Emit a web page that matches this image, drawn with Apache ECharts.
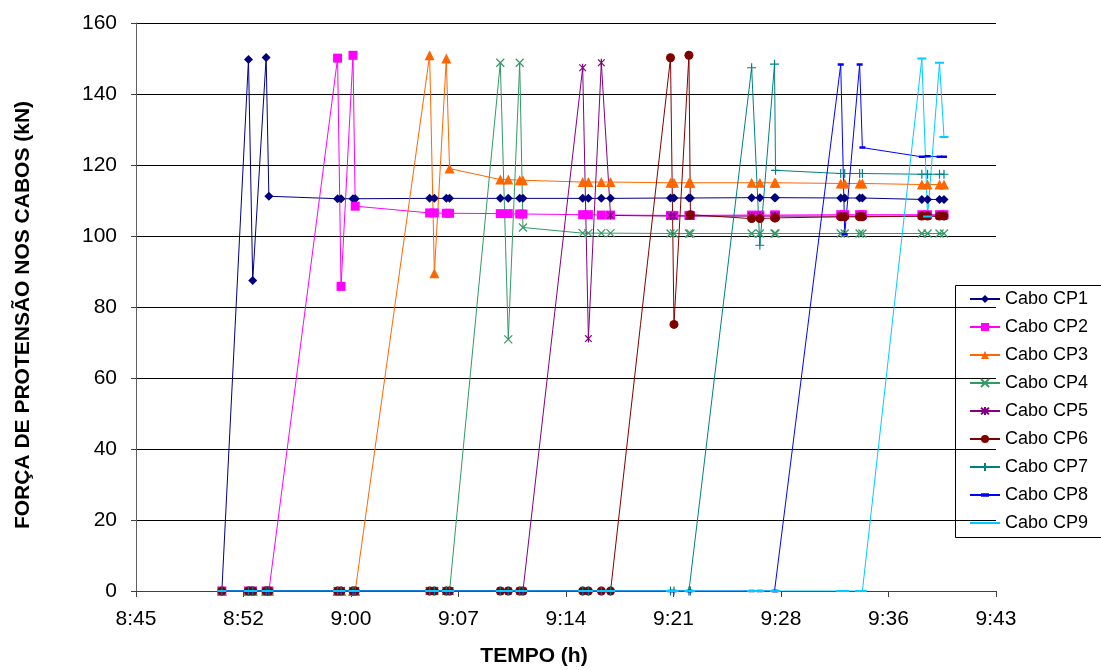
<!DOCTYPE html>
<html><head><meta charset="utf-8">
<script src="https://cdn.jsdelivr.net/npm/echarts@6/dist/echarts.min.js"></script>
<style>html,body{margin:0;padding:0;background:#fff}#c{width:1101px;height:670px}</style>
</head><body><div id="c"></div>
<script>
// shared time stamps (h:mm:ss)
const times = ['8:51:21','8:53:08','8:53:25','8:54:19','8:54:30','8:59:06','8:59:20','9:00:08','9:00:17',
  '9:05:16','9:05:35','9:06:23','9:06:36','9:10:00','9:10:32','9:11:18','9:11:31','9:15:31','9:15:54',
  '9:16:46','9:17:23','9:21:24','9:21:38','9:22:38','9:22:44','9:26:50','9:27:23','9:28:22','9:28:26',
  '9:32:48','9:33:04','9:34:04','9:34:15','9:38:14','9:38:37','9:39:25','9:39:43'];

const CP1 = [0,149.7,87.5,150.3,111.2,110.5,110.5,110.5,110.5,110.6,110.6,110.6,110.6,110.6,110.6,110.6,110.6,110.6,110.6,110.6,110.6,110.7,110.7,110.7,110.7,110.8,110.8,110.8,110.8,110.7,110.7,110.7,110.7,110.3,110.3,110.3,110.3];
const CP2 = [0,0,0,0,0,150.1,85.8,150.9,108.4,106.5,106.5,106.4,106.4,106.3,106.3,106.2,106.2,106.0,106.0,105.9,105.9,105.8,105.8,105.8,105.8,105.9,105.9,105.9,105.9,106.0,106.0,106.0,106.0,106.0,106.0,106.0,106.0];
const CP3 = [0,0,0,0,0,0,0,0,0,150.9,89.5,150.0,119.0,115.9,115.9,115.7,115.7,115.2,115.2,115.2,115.2,115.0,115.0,115.0,115.0,115.0,115.0,115.0,115.0,114.8,114.8,114.8,114.8,114.5,114.5,114.5,114.5];
const CP4 = [0,0,0,0,0,0,0,0,0,0,0,0,0,148.8,70.9,148.8,102.4,100.8,100.8,100.8,100.8,100.7,100.7,100.7,100.7,100.7,100.7,100.7,100.7,100.7,100.7,100.7,100.7,100.7,100.7,100.7,100.7];
const CP5 = [0,0,0,0,0,0,0,0,0,0,0,0,0,0,0,0,0,147.4,71.1,148.8,105.8,105.6,105.6,105.6,105.6,105.6,105.6,105.6,105.6,105.6,105.6,105.6,105.6,105.6,105.6,105.6,105.6];
const CP6 = [0,0,0,0,0,0,0,0,0,0,0,0,0,0,0,0,0,0,0,0,0,150.2,75.1,150.9,106.0,104.9,104.9,105.1,105.1,105.4,105.4,105.4,105.4,105.6,105.6,105.6,105.6];
const CP7 = [0,0,0,0,0,0,0,0,0,0,0,0,0,0,0,0,0,0,0,0,0,0,0,0,0,147.4,97.4,148.4,118.5,117.6,117.6,117.6,117.6,117.4,117.4,117.4,117.4];
const CP8 = [0,0,0,0,0,0,0,0,0,0,0,0,0,0,0,0,0,0,0,0,0,0,0,0,0,0,0,0,0,148.3,100.5,148.3,124.9,122.3,122.5,122.3,122.3];
const CP9 = [0,0,0,0,0,0,0,0,0,0,0,0,0,0,0,0,0,0,0,0,0,0,0,0,0,0,0,0,0,0,0,0,0,150.0,105.5,148.8,127.9];

const seriesNames = ['Cabo CP1','Cabo CP2','Cabo CP3','Cabo CP4','Cabo CP5','Cabo CP6','Cabo CP7','Cabo CP8','Cabo CP9'];
const xMinTime = '8:45:36', xMaxTime = '9:43:12', xStepMin = 7.2;
const yMin = 0, yMax = 160, yStep = 20;

const toMin = s => { const p = s.split(':').map(Number); return p[0]*60 + p[1] + (p[2]||0)/60; };
const fmt = v => { const m = Math.floor(v + 1e-6); return Math.floor(m/60) + ':' + String(m%60).padStart(2,'0'); };

const FONT = "'Liberation Sans', Arial, sans-serif";
// bar-shaped markers drawn inside a square box so they keep their shape in the legend too
const looks = [
  {color:'#000080', symbol:'diamond', size:9, stroke:0},
  {color:'#FF00FF', symbol:'rect', size:9, stroke:0},
  {color:'#FF6600', symbol:'triangle', size:10, stroke:0},
  {color:'#339966', symbol:'path://M0,0L10,10M10,0L0,10', size:8, stroke:1.2},
  {color:'#800080', symbol:'path://M0,0L10,10M10,0L0,10M5,-1L5,11', size:8, stroke:1.2},
  {color:'#800000', symbol:'circle', size:9, stroke:0},
  {color:'#008080', symbol:'path://M5,0L5,10M0,5L10,5', size:9, stroke:1.2},
  {color:'#0000FF', symbol:'path://M0,0L0.01,0ZM0,1.75L6,1.75L6,4.25L0,4.25ZM6,6L5.99,6Z', size:6, stroke:0},
  {color:'#00CCFF', symbol:'path://M0,0L0.01,0ZM0,3.5L9,3.5L9,5.5L0,5.5ZM9,9L8.99,9Z', size:9, stroke:0}
];
const allVals = [CP1,CP2,CP3,CP4,CP5,CP6,CP7,CP8,CP9];

const series = allVals.map((vals, k) => ({
  name: seriesNames[k],
  type: 'line',
  data: times.map((t, i) => [toMin(t), vals[i]]),
  symbol: looks[k].symbol,
  symbolSize: looks[k].size,
  symbolKeepAspect: true,
  lineStyle: {color: looks[k].color, width: 1},
  itemStyle: {color: looks[k].color, borderColor: looks[k].color, borderWidth: looks[k].stroke},
  emphasis: {disabled: true},
  animation: false
}));

const chart = echarts.init(document.getElementById('c'), null, {renderer: 'canvas'});
chart.setOption({
  animation: false,
  backgroundColor: '#fff',
  grid: {left: 136, right: 105, top: 23, bottom: 79, containLabel: false},
  xAxis: {
    type: 'value', min: toMin(xMinTime), max: toMin(xMaxTime), interval: xStepMin,
    axisLine: {show: true, onZero: false, lineStyle: {color: '#404040', width: 1}},
    axisTick: {show: true, inside: false, length: 6, lineStyle: {color: '#404040'}},
    axisLabel: {formatter: fmt, color: '#000', fontSize: 21, fontFamily: FONT, margin: 18},
    splitLine: {show: false}
  },
  yAxis: {
    type: 'value', min: yMin, max: yMax, interval: yStep,
    axisLine: {show: true, lineStyle: {color: '#606060', width: 1}},
    axisTick: {show: true, inside: false, length: 5, lineStyle: {color: '#404040'}},
    axisLabel: {color: '#000', fontSize: 21, fontFamily: FONT, margin: 19},
    splitLine: {show: true, lineStyle: {color: '#000', width: 1}}
  },
  legend: {
    orient: 'vertical', left: 955, top: 285,
    padding: [4, 10, 4, 14],
    itemWidth: 30, itemHeight: 10, itemGap: 8,
    textStyle: {fontSize: 18, fontFamily: FONT, color: '#000', lineHeight: 20},
    data: seriesNames
  },
  graphic: [
    {type: 'rect', shape: {x: 955.5, y: 285.5, width: 200, height: 252},
     style: {fill: 'none', stroke: '#000', lineWidth: 1}, z: 10, silent: true},
    {type: 'text', x: 23, y: 315, rotation: Math.PI/2,
     style: {text: 'FORÇA DE PROTENSÃO NOS CABOS (kN)', font: "bold 21px 'Liberation Sans', Arial, sans-serif",
             fill: '#000', align: 'center', verticalAlign: 'middle'}},
    {type: 'text', x: 534, y: 656,
     style: {text: 'TEMPO (h)', font: "bold 21px 'Liberation Sans', Arial, sans-serif",
             fill: '#000', align: 'center', verticalAlign: 'middle'}}
  ],
  series: series
});
</script>
</body></html>
